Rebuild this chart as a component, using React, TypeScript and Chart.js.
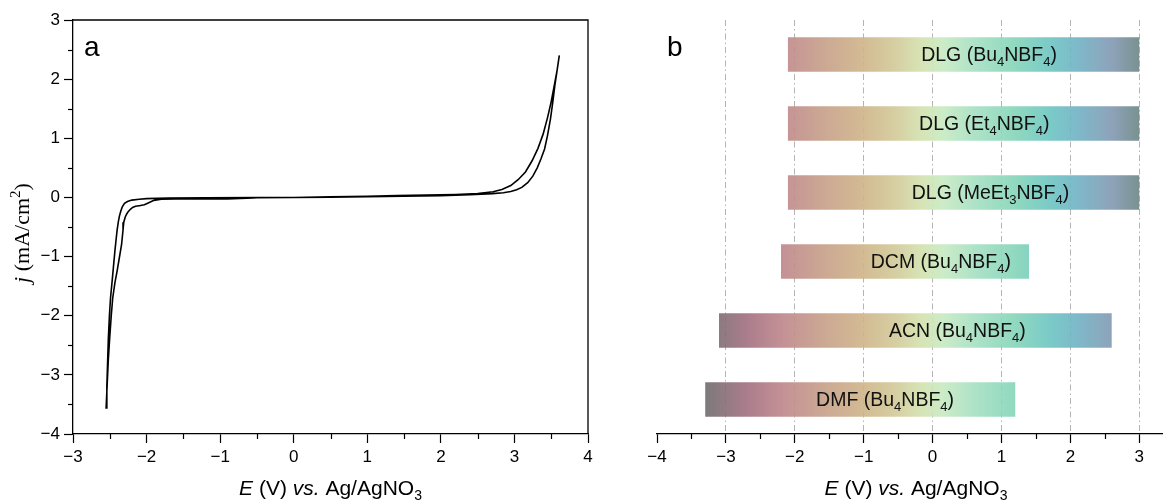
import { useEffect, useRef } from "react";
import { Chart, registerables } from "chart.js";

Chart.register(...registerables);

// ---------- Panel a: cyclic voltammogram ----------
const cvPotential = [
  -0.5, 0.0, 0.5, 1.0, 1.5, 2.0, 2.4, 2.7, 2.85, 2.95, 3.03, 3.1, 3.18, 3.25, 3.31, 3.36, 3.41, 3.45, 3.49, 3.52, 3.55, 3.58, 3.61,
  3.58, 3.54, 3.5, 3.45, 3.39, 3.32, 3.24, 3.15, 3.05, 2.95, 2.83, 2.71, 2.5, 2.2, 1.8, 1.4, 1.0, 0.5, 0.0, -0.5,
  -0.55, -0.9, -1.3, -1.6, -1.8, -1.9, -1.97, -2.03, -2.1, -2.15, -2.19, -2.22, -2.25, -2.27, -2.29, -2.31, -2.32, -2.34, -2.37, -2.4, -2.43, -2.46, -2.48, -2.5, -2.52, -2.535, -2.55,
  -2.54, -2.53, -2.52, -2.505, -2.49, -2.47, -2.45, -2.43, -2.415, -2.4, -2.385, -2.37, -2.35, -2.33, -2.3, -2.26, -2.2, -2.1, -2.0, -1.7, -1.2, -0.5,
];
const cvCurrent = [
  0.0, 0.0, 0.005, 0.012, 0.02, 0.03, 0.045, 0.065, 0.08, 0.1, 0.13, 0.17, 0.25, 0.36, 0.5, 0.65, 0.82, 1.05, 1.33, 1.6, 1.9, 2.15, 2.4,
  2.15, 1.88, 1.62, 1.35, 1.07, 0.83, 0.62, 0.43, 0.3, 0.2, 0.135, 0.095, 0.065, 0.05, 0.04, 0.03, 0.02, 0.01, 0.0, -0.005,
  -0.01, -0.025, -0.02, -0.025, -0.03, -0.05, -0.09, -0.125, -0.14, -0.15, -0.17, -0.2, -0.24, -0.28, -0.33, -0.42, -0.55, -0.8, -1.02, -1.24, -1.44, -1.7, -2.0, -2.35, -2.75, -3.15, -3.56,
  -3.2, -2.8, -2.4, -2.0, -1.7, -1.44, -1.17, -0.9, -0.72, -0.55, -0.42, -0.32, -0.23, -0.16, -0.1, -0.07, -0.045, -0.03, -0.02, -0.01, -0.005, 0.0,
];

// ---------- Panel b: electrochemical windows ----------
const windowLabels = [
  "DLG (Bu_4NBF_4)",
  "DLG (Et_4NBF_4)",
  "DLG (MeEt_3NBF_4)",
  "DCM (Bu_4NBF_4)",
  "ACN (Bu_4NBF_4)",
  "DMF (Bu_4NBF_4)",
];
const windowStart = [-2.1, -2.1, -2.1, -2.2, -3.1, -3.3];
const windowEnd = [3.0, 3.0, 3.0, 1.4, 2.6, 1.2];
const labelCenter = [0.82, 0.75, 0.84, 0.12, 0.36, -0.69];
const xTicksB = [-4, -3, -2, -1, 0, 1, 2, 3];
const gradientValues = [-3.3, -2.7, -2.15, -1.6, -1.0, -0.55, -0.15, 0.15, 0.6, 1.2, 1.7, 2.1, 2.6, 3.0];
const gradientColors = [
  "#6f6b6c", "#a26e80", "#bf878a", "#c69e88", "#cfb488", "#d2c998", "#d3e2ae",
  "#c7eac2", "#a6e0c2", "#84d5b9", "#6cc5c2", "#70b2c4", "#8299b3", "#6b8684",
];

const SANS = "'Liberation Sans', Arial, sans-serif";
const SERIF = "'Liberation Serif', 'Times New Roman', serif";
const TICK_SIZE = 17;

type Seg = { t: string; i?: boolean; sub?: boolean; sup?: boolean };

function drawRich(ctx: CanvasRenderingContext2D, segs: Seg[], x: number, y: number, size: number, family: string) {
  const fontFor = (s: Seg) => `${s.i ? "italic " : ""}${s.sub || s.sup ? Math.round(size * 0.68) : size}px ${family}`;
  let w = 0;
  for (const s of segs) {
    ctx.font = fontFor(s);
    w += ctx.measureText(s.t).width;
  }
  let cx = x - w / 2;
  ctx.textAlign = "left";
  ctx.textBaseline = "alphabetic";
  for (const s of segs) {
    ctx.font = fontFor(s);
    const dy = s.sub ? size * 0.25 : s.sup ? -size * 0.4 : 0;
    ctx.fillText(s.t, cx, y + dy);
    cx += ctx.measureText(s.t).width;
  }
}

function parseLabel(str: string): Seg[] {
  const segs: Seg[] = [];
  const parts = str.split(/_(\d)/);
  parts.forEach((p, idx) => {
    if (!p) return;
    segs.push(idx % 2 === 1 ? { t: p, sub: true } : { t: p });
  });
  return segs;
}

const fmt = (v: number | string) => {
  const n = Number(v);
  return n < 0 ? "\u2212" + Math.abs(n) : String(n);
};

const xTitle: Seg[] = [{ t: "E", i: true }, { t: " (V) " }, { t: "vs.", i: true }, { t: " Ag/AgNO" }, { t: "3", sub: true }];

function minorTicks(chart: any, axes: string[]) {
  const ctx = chart.ctx as CanvasRenderingContext2D;
  ctx.save();
  ctx.strokeStyle = "#000";
  ctx.lineWidth = 1.2;
  for (const id of axes) {
    const sc = chart.scales[id];
    for (let v = Math.ceil(sc.min * 2) / 2; v <= sc.max + 1e-9; v += 0.5) {
      if (Math.abs(v - Math.round(v)) < 1e-9) continue;
      const p = Math.round(sc.getPixelForValue(v)) + 0.5;
      ctx.beginPath();
      if (id === "x") {
        ctx.moveTo(p, sc.top);
        ctx.lineTo(p, sc.top + 5);
      } else {
        ctx.moveTo(sc.right, p);
        ctx.lineTo(sc.right - 5, p);
      }
      ctx.stroke();
    }
  }
  ctx.restore();
}

export default function App() {
  const refA = useRef<HTMLCanvasElement>(null);
  const refB = useRef<HTMLCanvasElement>(null);

  useEffect(() => {
    const tickFont = { family: SANS, size: TICK_SIZE };
    const axisCommon = {
      type: "linear" as const,
      ticks: { stepSize: 1, font: tickFont, color: "#000", padding: 4, autoSkip: false, callback: fmt },
      grid: { drawOnChartArea: false, tickLength: 9, tickColor: "#000", tickWidth: 1.2 },
      border: { color: "#000", width: 1.3 },
    };

    const chartA = new Chart(refA.current!, {
      type: "scatter",
      data: {
        datasets: [
          {
            data: cvPotential.map((e, i) => ({ x: e, y: cvCurrent[i] })),
            showLine: true,
            borderColor: "#000",
            borderWidth: 1.6,
            pointRadius: 0,
            tension: 0,
          },
        ],
      },
      options: {
        animation: false,
        responsive: false,
        layout: { padding: { top: 20, right: 32, left: 0, bottom: 0 } },
        plugins: { legend: { display: false }, tooltip: { enabled: false } },
        scales: {
          x: { ...axisCommon, min: -3, max: 4, afterFit: (s: any) => { s.height = 66; } },
          y: { ...axisCommon, min: -4, max: 3, afterFit: (s: any) => { s.width = 73; } },
        } as any,
      },
      plugins: [
        {
          id: "decorA",
          afterDraw(chart: any) {
            const ctx = chart.ctx as CanvasRenderingContext2D;
            const { left, right, top, bottom } = chart.chartArea;
            ctx.save();
            ctx.strokeStyle = "#000";
            ctx.lineWidth = 1.3;
            ctx.beginPath();
            ctx.moveTo(left, top);
            ctx.lineTo(right, top);
            ctx.lineTo(right, bottom);
            ctx.stroke();
            ctx.restore();
            minorTicks(chart, ["x", "y"]);
            ctx.save();
            ctx.fillStyle = "#000";
            ctx.font = `28px ${SANS}`;
            ctx.textAlign = "left";
            ctx.textBaseline = "alphabetic";
            ctx.fillText("a", 84, 56);
            drawRich(ctx, xTitle, (left + right) / 2, 495, 21, SANS);
            ctx.translate(29, 233);
            ctx.rotate(-Math.PI / 2);
            drawRich(ctx, [{ t: "j", i: true }, { t: " (mA/cm" }, { t: "2", sup: true }, { t: ")" }], 0, 0, 22, SERIF);
            ctx.restore();
          },
        },
      ],
    });

    const chartB = new Chart(refB.current!, {
      type: "bar",
      data: {
        labels: windowLabels,
        datasets: [
          {
            data: windowStart.map((s, i) => [s, windowEnd[i]]) as any,
            backgroundColor: (c: any) => {
              const chart = c.chart;
              if (!chart.chartArea) return "#ccc";
              const xs = chart.scales.x;
              const x0 = xs.getPixelForValue(gradientValues[0]);
              const x1 = xs.getPixelForValue(gradientValues[gradientValues.length - 1]);
              const g = chart.ctx.createLinearGradient(x0, 0, x1, 0);
              const span = gradientValues[gradientValues.length - 1] - gradientValues[0];
              gradientValues.forEach((v, i) => {
                g.addColorStop((v - gradientValues[0]) / span, gradientColors[i]);
              });
              return g;
            },
            borderWidth: 0,
            barPercentage: 0.5,
            categoryPercentage: 1,
          },
        ],
      },
      options: {
        animation: false,
        responsive: false,
        indexAxis: "y",
        layout: { padding: { top: 20, right: 2, left: 37, bottom: 0 } },
        plugins: { legend: { display: false }, tooltip: { enabled: false } },
        scales: {
          x: {
            type: "linear",
            min: -4,
            max: 3.33,
            afterBuildTicks: (s: any) => { s.ticks = xTicksB.map((v) => ({ value: v })); },
            afterFit: (s: any) => { s.height = 66; },
            ticks: { font: tickFont, color: "#000", padding: 4, autoSkip: false, callback: fmt },
            grid: {
              drawOnChartArea: true,
              tickLength: 9,
              tickColor: "#000",
              tickWidth: 1.2,
              color: (c: any) => (c.tick && c.tick.value === -4 ? "rgba(0,0,0,0)" : "#b4b4b4"),
              lineWidth: 1,
            },
            border: { color: "#000", width: 1.3, dash: [6, 3, 1.5, 3] as any },
          },
          y: { type: "category", display: false, offset: true },
        } as any,
      },
      plugins: [
        {
          id: "decorB",
          beforeDatasetsDraw(chart: any) {
            chart.ctx.globalAlpha = 0.9;
          },
          afterDatasetsDraw(chart: any) {
            const ctx = chart.ctx as CanvasRenderingContext2D;
            ctx.globalAlpha = 1;
            ctx.save();
            ctx.fillStyle = "#111";
            windowLabels.forEach((lab, i) => {
              const x = chart.scales.x.getPixelForValue(labelCenter[i]);
              const y = chart.scales.y.getPixelForValue(i);
              drawRich(ctx, parseLabel(lab), x, y + 6.5, 19.5, SANS);
            });
            ctx.restore();
          },
          afterDraw(chart: any) {
            minorTicks(chart, ["x"]);
            const ctx = chart.ctx as CanvasRenderingContext2D;
            ctx.save();
            ctx.fillStyle = "#000";
            ctx.font = `28px ${SANS}`;
            ctx.textAlign = "left";
            ctx.textBaseline = "alphabetic";
            ctx.fillText("b", 47, 56);
            drawRich(ctx, xTitle, 296, 495, 21, SANS);
            ctx.restore();
          },
        },
      ],
    });

    return () => {
      chartA.destroy();
      chartB.destroy();
    };
  }, []);

  return (
    <div style={{ position: "absolute", left: 0, top: 0, width: 1164, height: 500, background: "#fff" }}>
      <canvas ref={refA} width={620} height={500} style={{ position: "absolute", left: 0, top: 0, width: 620, height: 500 }} />
      <canvas ref={refB} width={544} height={500} style={{ position: "absolute", left: 620, top: 0, width: 544, height: 500 }} />
    </div>
  );
}
